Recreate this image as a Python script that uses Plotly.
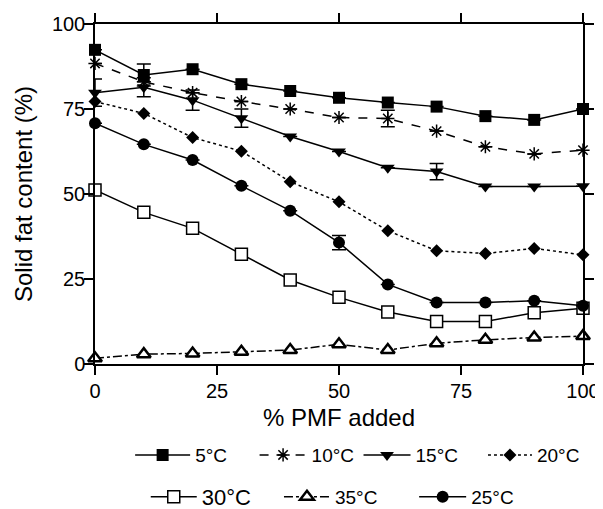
import plotly.graph_objects as go

pmf_added = [0, 10, 20, 30, 40, 50, 60, 70, 80, 90, 100]

sfc_5c = [92.4, 85.0, 86.7, 82.3, 80.3, 78.3, 76.9, 75.7, 72.9, 71.8, 75.0]
sfc_10c = [88.4, 83.0, 79.8, 77.2, 75.0, 72.5, 72.2, 68.5, 63.9, 61.8, 62.9]
sfc_15c = [79.8, 81.4, 77.6, 72.3, 66.9, 62.5, 57.7, 56.6, 52.2, 52.2, 52.3]
sfc_20c = [77.2, 73.7, 66.6, 62.6, 53.6, 47.7, 39.2, 33.3, 32.5, 34.0, 32.1]
sfc_25c = [70.8, 64.6, 60.0, 52.4, 45.1, 35.7, 23.4, 18.1, 18.1, 18.6, 17.1]
sfc_30c = [51.2, 44.6, 39.9, 32.3, 24.7, 19.6, 15.3, 12.5, 12.5, 15.1, 16.4]
sfc_35c = [1.7, 2.9, 3.1, 3.6, 4.1, 5.8, 4.1, 6.1, 7.1, 7.8, 8.2]

# standard deviations (0 = no bar visible)
err_5c = [0, 3.2, 0, 0, 0, 0, 0, 0, 0, 0, 0]
err_10c = [0, 0, 0, 0, 0, 0, 2.4, 0, 0, 0, 0]
err_15c = [4.0, 2.8, 3.0, 2.7, 0, 0, 0, 2.4, 0, 0, 0]
err_25c = [0, 0, 0, 0, 0, 2.1, 0, 0, 0, 0, 0]

FONT = "Liberation Sans, Arial, sans-serif"

series = [
    # name, y, err, symbol, size, fill, marker line width, dash, legend id, legend x, legend y, font size, item width
    ("5°C", sfc_5c, err_5c, "square", 12, "black", 0, "solid", "legend", 0.072, -0.268, 19, 55),
    ("10°C", sfc_10c, err_10c, "asterisk-open", 11, "black", 1.5, "dash", "legend2", 0.327, -0.268, 19, 47),
    ("15°C", sfc_15c, err_15c, "triangle-down", 12, "black", 0, "solid", "legend3", 0.540, -0.268, 19, 47),
    ("20°C", sfc_20c, None, "diamond", 10, "black", 0, "dot", "legend4", 0.795, -0.268, 19, 44),
    ("30°C", sfc_30c, None, "square", 12, "white", 1.5, "solid", "legend5", 0.104, -0.391, 22, 46),
    ("35°C", sfc_35c, None, "triangle-up", 12, "white", 2.5, "dashdot", "legend6", 0.377, -0.391, 19, 46),
    ("25°C", sfc_25c, err_25c, "circle", 12, "black", 0, "solid", "legend7", 0.654, -0.391, 19, 47),
]

fig = go.Figure()
legends = {}
for name, y, err, sym, size, fill, mlw, dash, leg, lx, ly, fs, iw in series:
    tr = go.Scatter(
        x=pmf_added, y=y, name=name, mode="lines+markers",
        line=dict(color="black", width=1.5, dash=dash),
        marker=dict(symbol=sym, size=size, color=fill,
                    line=dict(color="black", width=mlw)),
        cliponaxis=False, legend=leg,
    )
    if err is not None:
        tr.error_y = dict(type="data", array=err, visible=True,
                          color="black", thickness=1.5, width=7)
    fig.add_trace(tr)
    legends[leg] = dict(x=lx, y=ly, xanchor="left", yanchor="middle",
                        orientation="h", bgcolor="rgba(0,0,0,0)", itemwidth=iw,
                        font=dict(family=FONT, size=fs, color="black"))

axis_common = dict(
    showline=True, linecolor="black", linewidth=1.5, mirror="ticks",
    ticks="outside", ticklen=9, tickwidth=1.5, tickcolor="black",
    showgrid=False, zeroline=False,
    tickfont=dict(family=FONT, size=20, color="black"),
)

# page has an 8px body margin, so the figure is a bit smaller than the window
fig.update_layout(
    width=595, height=501,
    margin=dict(l=87, r=20, t=16, b=145, autoexpand=False),
    showlegend=True,
    plot_bgcolor="white", paper_bgcolor="white",
    font=dict(family=FONT, color="black"),
    xaxis=dict(range=[0, 100], tickvals=[0, 25, 50, 75, 100], ticklabelstandoff=-1,
               title=dict(text="% PMF added", font=dict(family=FONT, size=24), standoff=8),
               **axis_common),
    yaxis=dict(range=[0, 100], tickvals=[0, 25, 50, 75, 100], ticklabelstandoff=-5,
               title=dict(text="Solid fat content (%)", font=dict(family=FONT, size=24), standoff=12),
               **axis_common),
    **legends,
)

fig.write_html("out.html")
